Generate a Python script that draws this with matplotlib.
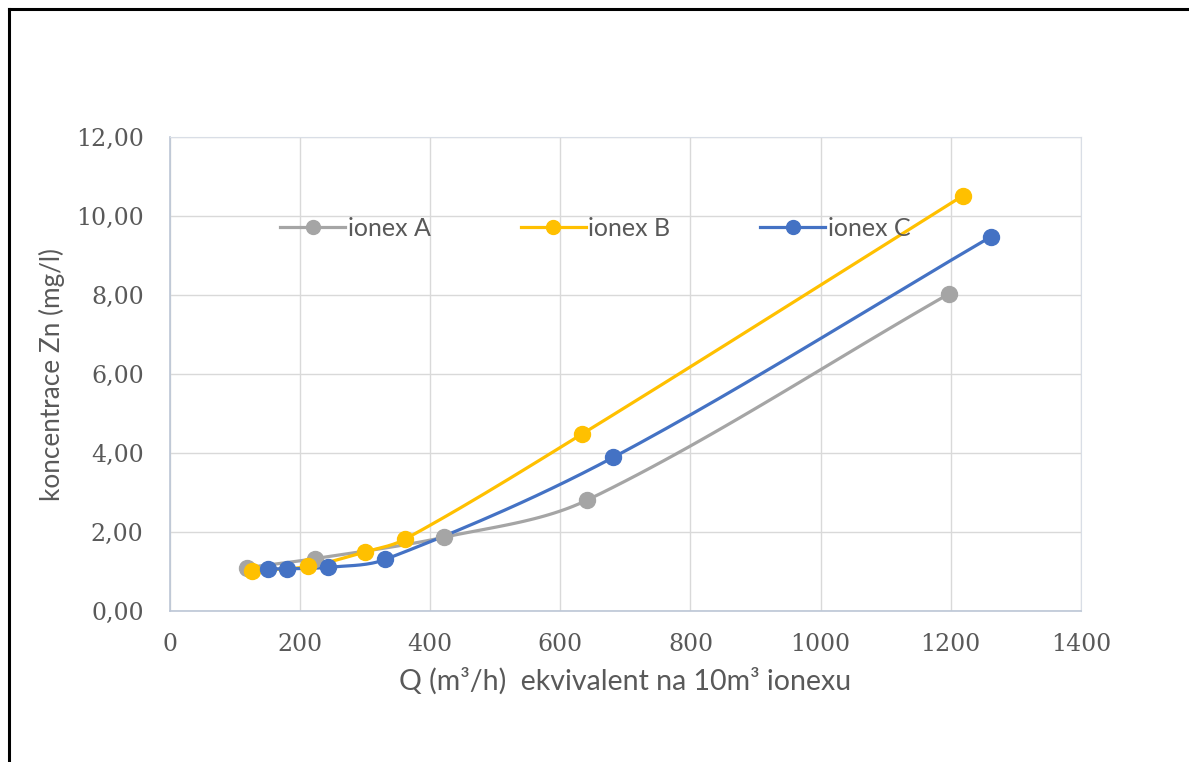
import numpy as np
import matplotlib.pyplot as plt
from matplotlib.lines import Line2D
from matplotlib.ticker import FuncFormatter

plt.rcParams['font.family'] = ['Lato', 'DejaVu Sans']

# data
a_x = [118, 223, 421, 641, 1197]
a_y = [1.10, 1.33, 1.87, 2.81, 8.03]
b_x = [126, 212, 300, 361, 633, 1219]
b_y = [1.02, 1.13, 1.50, 1.82, 4.48, 10.52]
c_x = [151, 180, 243, 331, 681, 1262]
c_y = [1.07, 1.07, 1.11, 1.31, 3.89, 9.48]

names = ['ionex A', 'ionex B', 'ionex C']
colors = ['#A5A5A5', '#FFC000', '#4472C4']
xticks = [0, 200, 400, 600, 800, 1000, 1200, 1400]
yticks = [0, 2, 4, 6, 8, 10, 12]


def smooth(xs, ys, n=30):
    # smoothed line like Excel: bezier segments, tangents scaled by segment length
    sc = np.array([0.65, 39.5])  # rough screen scale so lengths are fair
    p = np.column_stack([xs, ys]).astype(float)
    q = p * sc
    out = [p[0]]
    for i in range(len(p) - 1):
        i0 = max(i - 1, 0)
        i3 = min(i + 2, len(p) - 1)
        d01 = np.linalg.norm(q[i] - q[i0])
        d12 = np.linalg.norm(q[i + 1] - q[i])
        d23 = np.linalg.norm(q[i3] - q[i + 1])
        c1 = p[i] + (p[i + 1] - p[i0]) * d12 / (d01 + d12) / 3
        c2 = p[i + 1] - (p[i3] - p[i]) * d12 / (d12 + d23) / 3
        t = np.linspace(0, 1, n)[1:, None]
        seg = (1 - t) ** 3 * p[i] + 3 * (1 - t) ** 2 * t * c1 + 3 * (1 - t) * t ** 2 * c2 + t ** 3 * p[i + 1]
        out.extend(seg)
    out = np.array(out)
    return out[:, 0], out[:, 1]


fig = plt.figure(figsize=(11.89, 7.62), dpi=100)
ax = fig.add_axes([0.143, 0.198, 0.766, 0.622])

handles = []
for xs, ys, col, name in zip([a_x, b_x, c_x], [a_y, b_y, c_y], colors, names):
    sx, sy = smooth(xs, ys)
    ax.plot(sx, sy, color=col, lw=2.3, zorder=3)
    ax.plot(xs, ys, 'o', color=col, ms=11.5, zorder=4)
    handles.append(Line2D([], [], color=col, lw=2.3, marker='o', ms=10))

ax.set_xlim(0, 1400)
ax.set_ylim(0, 12)
ax.set_xticks(xticks)
ax.set_yticks(yticks)
ax.yaxis.set_major_formatter(FuncFormatter(lambda v, p: f'{v:.2f}'.replace('.', ',')))
ax.grid(True, color='#D9D9D9', lw=1)
ax.set_axisbelow(True)
ax.tick_params(length=0, labelsize=17, labelcolor='#595959')
for lab in ax.get_xticklabels() + ax.get_yticklabels():
    lab.set_family('DejaVu Serif')
ax.tick_params(axis='y', pad=19)
ax.tick_params(axis='x', pad=16)
for s in ['top', 'right']:
    ax.spines[s].set_color('#D9DEE6')
for s in ['left', 'bottom']:
    ax.spines[s].set_color('#BCC6D6')
    ax.spines[s].set_linewidth(1.2)

ax.set_ylabel('koncentrace Zn (mg/l)', fontsize=18.8, color='#595959', labelpad=8)
ax.set_xlabel('Q (m³/h)  ekvivalent na 10m³ ionexu', fontsize=20.5, color='#595959', labelpad=8)

ax.legend(handles, names, ncol=3, loc='center', bbox_to_anchor=(0.467, 0.808),
          frameon=False, fontsize=18, labelcolor='#595959', handlelength=2.6,
          handletextpad=0.1, columnspacing=3.6)

# black frame around the screenshot
fig.add_artist(Line2D([0.0076, 0.0076], [0, 0.988], transform=fig.transFigure, color='black', lw=2.2))
fig.add_artist(Line2D([0.0076, 1.0], [0.988, 0.988], transform=fig.transFigure, color='black', lw=2.2))

fig.savefig('out.png', dpi=100)
